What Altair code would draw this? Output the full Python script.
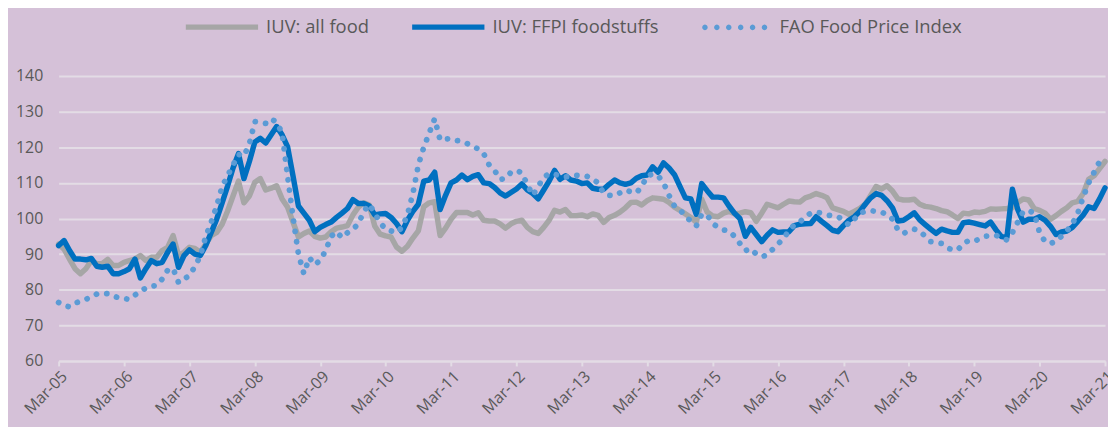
import math
import altair as alt
import pandas as pd

# Monthly index values, Mar-05 .. Mar-21 (193 months)
iuv_all_food = [
    92.8, 91.4, 88.6, 85.9, 84.5, 85.9, 88.2, 87.3, 87.3, 88.5, 86.8, 86.8,
    87.7, 88.2, 88.6, 89.6, 88.2, 89.1, 89.1, 91.0, 91.9, 95.2, 89.6, 90.5,
    91.9, 91.6, 90.5, 92.8, 95.2, 96.1, 98.4, 102.1, 106.3, 110.5, 104.4, 106.3,
    110.2, 111.2, 108.0, 108.5, 109.2, 105.5, 103.2, 99.0, 94.8, 95.8, 96.5, 95.0,
    94.5, 94.8, 96.3, 97.3, 97.6, 98.0, 101.0, 103.2, 104.4, 103.8, 97.9, 95.6,
    95.1, 94.8, 92.0, 90.8, 92.2, 94.5, 96.5, 103.3, 104.4, 104.7, 95.2, 97.3,
    99.8, 101.7, 101.7, 101.7, 101.0, 101.6, 99.5, 99.3, 99.3, 98.5, 97.3, 98.5,
    99.2, 99.5, 97.5, 96.3, 95.8, 97.5, 99.5, 102.3, 101.8, 102.5, 100.8, 100.8,
    101.0, 100.5, 101.3, 100.9, 98.9, 100.3, 100.9, 101.8, 103.0, 104.5, 104.6, 103.8,
    105.0, 105.8, 105.6, 105.4, 104.5, 103.2, 102.3, 101.3, 100.3, 99.0, 105.4, 101.8,
    100.7, 100.5, 101.5, 102.0, 101.3, 101.5, 101.9, 101.6, 99.2, 101.5, 104.0, 103.5,
    103.0, 104.0, 104.9, 104.7, 104.6, 105.8, 106.3, 107.0, 106.5, 105.8, 103.0, 102.5,
    102.0, 101.2, 102.0, 102.8, 104.0, 106.5, 109.0, 108.3, 109.2, 107.7, 105.5, 105.2,
    105.2, 105.4, 104.0, 103.4, 103.2, 102.8, 102.2, 101.9, 101.0, 100.0, 101.5, 101.3,
    101.8, 101.7, 102.0, 102.7, 102.6, 102.7, 102.8, 103.0, 104.5, 105.5, 105.2, 102.8,
    102.3, 101.5, 99.8, 100.8, 102.0, 103.0, 104.4, 104.8, 107.0, 111.0, 112.0, 114.0,
    116.0,
]

iuv_ffpi = [
    92.4, 93.8, 91.0, 88.6, 88.6, 88.4, 88.8, 86.6, 86.3, 86.6, 84.5, 84.5,
    85.1, 85.9, 88.6, 83.3, 85.9, 88.2, 87.3, 87.7, 90.5, 92.8, 86.3, 89.6,
    91.2, 90.0, 89.6, 92.4, 96.1, 99.8, 104.4, 109.1, 114.2, 118.2, 111.2, 116.0,
    121.5, 122.5, 121.2, 123.5, 125.8, 123.5, 120.2, 112.0, 103.5, 101.5, 99.5, 96.3,
    97.5, 98.3, 99.0, 100.3, 101.5, 102.8, 105.3, 104.2, 104.2, 103.5, 101.0, 101.3,
    101.4, 100.3, 98.6, 96.3, 99.5, 102.0, 104.0, 110.5, 110.8, 113.0, 102.5, 106.5,
    110.0, 110.8, 112.2, 110.9, 111.8, 112.3, 110.0, 109.8, 108.7, 107.2, 106.3, 107.3,
    108.3, 109.7, 108.0, 107.0, 105.5, 108.0, 110.5, 113.5, 111.0, 112.0, 110.8, 110.5,
    109.8, 110.0, 108.5, 108.2, 108.2, 109.6, 110.8, 110.0, 109.6, 110.0, 111.3, 112.0,
    112.2, 114.5, 113.0, 115.6, 114.2, 112.3, 109.0, 105.8, 105.5, 101.2, 109.8, 107.8,
    106.0, 106.0, 105.8, 103.5, 101.5, 100.0, 95.0, 97.5, 95.5, 93.5, 95.3, 96.8,
    96.1, 96.2, 96.3, 98.0, 98.4, 98.5, 98.6, 100.5, 99.2, 98.0, 96.7, 96.3,
    98.0, 99.5, 100.5, 102.0, 104.0, 105.8, 107.0, 106.5, 105.0, 103.0, 99.3, 99.5,
    100.5, 101.6, 99.6, 98.3, 97.0, 95.8, 97.0, 96.5, 96.1, 96.1, 98.8, 99.0,
    98.7, 98.3, 97.9, 99.0, 96.8, 94.9, 94.7, 108.2, 102.5, 99.0, 99.8, 99.8,
    100.5, 99.5, 97.8, 95.5, 96.2, 96.5, 97.5, 99.2, 101.0, 103.3, 102.8, 105.5,
    108.6,
]

fao_fpi = [
    76.4, 75.5, 75.2, 76.2, 76.8, 77.3, 78.0, 78.8, 79.0, 78.9, 78.3, 77.7,
    77.5, 77.3, 78.5, 79.5, 80.5, 81.0, 81.2, 83.0, 85.5, 86.0, 82.0, 83.0,
    84.0, 86.5, 89.5, 95.0, 99.0, 103.5, 109.0, 112.0, 115.0, 118.0, 117.5, 121.0,
    127.2, 127.0, 126.7, 128.0, 127.0, 124.0, 112.0, 100.5, 90.0, 84.5, 89.0, 87.0,
    88.3, 91.0, 95.0, 96.3, 94.6, 96.0, 97.0, 98.5, 102.0, 104.0, 101.5, 98.8,
    97.0, 96.5, 96.0, 97.5, 101.0, 107.0, 115.0, 120.0, 124.0, 128.0, 122.0, 122.3,
    122.5, 121.9, 121.7, 121.0, 120.3, 119.5, 118.2, 115.0, 113.5, 111.0, 111.2, 113.0,
    113.5, 112.8, 109.5, 106.5, 109.0, 111.5, 112.6, 112.4, 112.0, 111.7, 111.8, 112.1,
    112.0, 111.8, 111.0, 110.0, 107.0, 106.5, 106.4, 107.2, 108.0, 107.5, 107.2, 109.0,
    112.0, 112.5, 112.0, 110.0, 106.5, 103.5, 102.5, 100.5, 99.3, 97.9, 101.2, 101.0,
    98.6, 97.5, 96.8, 96.5, 95.0, 93.0, 91.0, 91.5, 90.0, 89.3, 89.7, 91.3,
    92.8, 94.5, 96.5, 98.3, 99.0, 100.5, 101.5, 101.8, 101.5, 101.0, 100.7, 100.5,
    99.5, 98.2, 99.8, 101.5, 102.0, 102.2, 102.0, 101.8, 101.0, 99.8, 96.8, 95.8,
    96.5, 97.0, 96.5, 95.0, 93.5, 93.3, 93.0, 91.8, 91.2, 91.2, 93.0, 93.8,
    93.6, 94.3, 95.0, 95.2, 95.3, 94.5, 94.0, 96.0, 99.0, 102.0, 102.2, 101.5,
    96.0, 93.5, 93.0, 93.6, 95.0, 96.5, 98.5, 101.5, 106.0, 110.0, 113.0, 116.0,
    116.3,
]

tick_labels = ["Mar-05", "Mar-06", "Mar-07", "Mar-08", "Mar-09", "Mar-10", "Mar-11",
               "Mar-12", "Mar-13", "Mar-14", "Mar-15", "Mar-16", "Mar-17", "Mar-18",
               "Mar-19", "Mar-20", "Mar-21"]

series_names = ["IUV: all food", "IUV: FFPI foodstuffs", "FAO Food Price Index"]
series_colors = ["#A6A6A6", "#0070C0", "#5B9BD5"]

rows = []
for name, vals in zip(series_names, [iuv_all_food, iuv_ffpi, fao_fpi]):
    for i, v in enumerate(vals):
        rows.append({"month": i, "value": v, "series": name})
df = pd.DataFrame(rows)
df_solid = df[df["series"] != series_names[2]]
df_dotted = df[df["series"] == series_names[2]]

label_array = "[" + ",".join("'%s'" % t for t in tick_labels) + "]"
tick_values = [i * 12 for i in range(len(tick_labels))]

FONT = "Open Sans"
TXT = "#595959"
GRID = "#E3DCE5"
BG = "#D5C1D8"
LEG_FS = 18.5

# legend symbol for the dotted series: a row of six small round dots
def dots_path(n=6, half_span=0.857, r=0.08, sides=12):
    parts = []
    for k in range(n):
        cx = -half_span + 2 * half_span * k / (n - 1)
        pts = [(cx + r * math.cos(2 * math.pi * j / sides), r * math.sin(2 * math.pi * j / sides))
               for j in range(sides)]
        parts.append("M" + " L".join("%.4f,%.4f" % p for p in pts) + " Z")
    return " ".join(parts)

x_enc = alt.X("month:Q",
              scale=alt.Scale(domain=[0, 192], nice=False, zero=False),
              axis=alt.Axis(values=tick_values,
                            labelExpr=label_array + "[round(datum.value/12)]",
                            labelAngle=-45, grid=False, domain=True, domainColor=GRID,
                            domainWidth=2, ticks=True, tickColor=GRID, tickWidth=2,
                            tickSize=5, labelFont=FONT, labelFontSize=16,
                            labelColor=TXT, labelPadding=2, title=None))
y_enc = alt.Y("value:Q",
              scale=alt.Scale(domain=[60, 140], nice=False, zero=False),
              axis=alt.Axis(values=list(range(60, 141, 10)), grid=True, gridColor=GRID,
                            gridWidth=2, domain=False, ticks=False, labelFont=FONT,
                            labelFontSize=16, labelColor=TXT, labelPadding=16,
                            title=None))

solid = alt.Chart(df_solid).mark_line(strokeCap="round", strokeJoin="round",
                                      strokeWidth=5.5).encode(
    x=x_enc, y=y_enc,
    color=alt.Color("series:N",
                    scale=alt.Scale(domain=series_names[:2], range=series_colors[:2]),
                    legend=alt.Legend(title=None, orient="none", direction="horizontal",
                                      legendX=125, legendY=-89,
                                      symbolType="stroke", symbolSize=5300,
                                      symbolStrokeWidth=5.5, labelFont=FONT,
                                      labelFontSize=LEG_FS, labelColor=TXT, labelOffset=5,
                                      labelLimit=400, columnPadding=32)),
    order=alt.Order("month:Q"),
)

dotted = alt.Chart(df_dotted).mark_line(strokeCap="round", strokeJoin="round",
                                        strokeWidth=5.8, strokeDash=[0.1, 10.4],
                                        color=series_colors[2]).encode(
    x=x_enc, y=y_enc,
    order=alt.Order("month:Q"),
)

dotted_key = alt.Chart(df_dotted).mark_circle(opacity=0, size=10).encode(
    x=x_enc, y=y_enc,
    color=alt.Color("series:N",
                    scale=alt.Scale(domain=series_names[2:], range=series_colors[2:]),
                    legend=alt.Legend(title=None, orient="none", direction="horizontal",
                                      legendX=646, legendY=-84,
                                      symbolType=dots_path(), symbolSize=4900,
                                      symbolOpacity=1, symbolStrokeWidth=0,
                                      labelFont=FONT, labelFontSize=LEG_FS,
                                      labelColor=TXT, labelOffset=10, labelLimit=400)),
)

chart = alt.layer(solid, dotted, dotted_key).resolve_scale(
    color="independent"
).properties(
    width=1054,
    height=287,
    padding={"left": 51, "top": 67, "right": 3, "bottom": 65},
    autosize="none",
).configure(
    background=BG,
).configure_view(
    stroke=None,
)

chart.save("out.html", embed_options={"renderer": "svg", "actions": False})
